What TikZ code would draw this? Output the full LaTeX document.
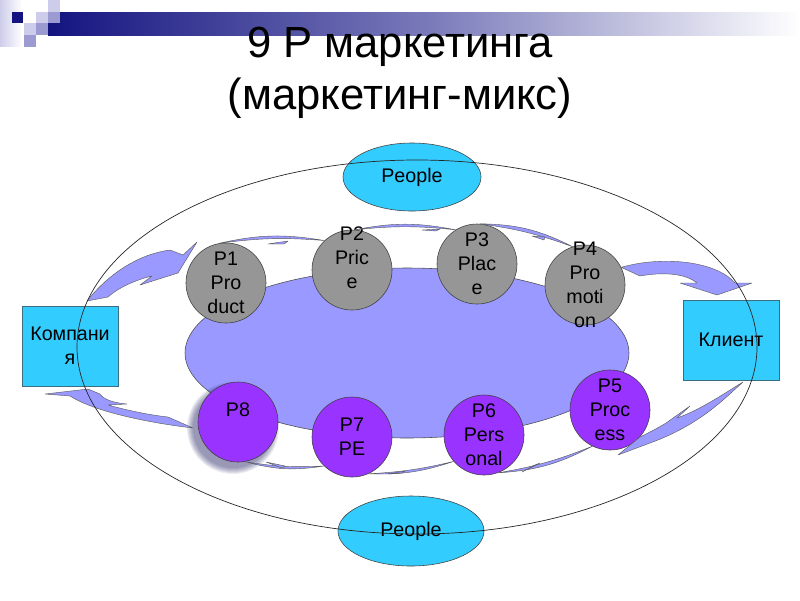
\documentclass[tikz,border=0pt]{standalone}
\usepackage{fontspec}
\setmainfont{Liberation Sans}
\usetikzlibrary{shapes.geometric}

\definecolor{pcyan}{RGB}{51,204,255}
\definecolor{plav}{RGB}{153,153,255}
\definecolor{pgrey}{RGB}{150,150,150}
\definecolor{pviolet}{RGB}{153,51,255}
\definecolor{hnavy}{RGB}{20,20,128}
\definecolor{hmid}{RGB}{120,120,185}
\definecolor{hlight}{RGB}{205,205,235}
\definecolor{hmedium}{RGB}{155,155,210}
\definecolor{boxline}{RGB}{60,110,130}

% thin crescent arrow between two points
\newcommand{\thinflow}[4]{\filldraw[flow] (#1) to[bend left=#3] (#2) to[bend right=#4] (#1) -- cycle;}
% small barb on a thin arrow
\newcommand{\barb}[3]{\filldraw[flow] (#1) -- (#2) -- (#3) -- cycle;}

\begin{document}
\begin{tikzpicture}[x=0.025cm, y=-0.025cm,
    every node/.style={font=\fontsize{14}{17}\selectfont},
    pball/.style={circle, draw=black!75, minimum size=2cm, inner sep=0pt},
    greyball/.style={pball, fill=pgrey},
    violetball/.style={pball, fill=pviolet},
    ptext/.style={align=center, inner sep=0pt},
    sidebox/.style={draw=boxline, fill=pcyan, minimum width=2.4cm, minimum height=2cm, align=center, inner sep=0pt},
    people/.style={ellipse, draw=black!75, fill=pcyan, inner sep=0pt},
    flow/.style={fill=plav, draw=black!65, line width=0.3pt, line join=round},
  ]
  \useasboundingbox (0,0) rectangle (800,600);

  % header strip and squares
  \shade[left color=hlight, right color=white] (0,0) rectangle (22,46);
  \shade[left color=hnavy, right color=white, middle color=hmid] (48,12) rectangle (800,35);
  \fill[hnavy] (12,12) rectangle (23,23);
  \fill[hlight] (48,0) rectangle (60,12);
  \fill[hlight] (36,12) rectangle (48,23);
  \fill[hmedium] (48,12) rectangle (60,23);
  \fill[hlight] (24,23) rectangle (36,35);
  \fill[hmedium] (36,23) rectangle (48,35);
  \fill[hmedium] (24,35) rectangle (36,47);

  % title
  \node[align=center, font=\fontsize{31}{37}\selectfont] (title) at (400,73)
    {9 Р маркетинга\\(маркетинг-микс)};

  % inner field
  \filldraw[fill=plav, draw=black!70] (407,353) ellipse (222 and 85);

  % shadow under P8
  \foreach \r in {40,41,...,46}
    \fill[black!70!blue, opacity=0.07] (233,428) circle (\r);

  % the P circles
  \node[greyball] (p1) at (226,283) {};
  \node[greyball] (p2) at (352,270) {};
  \node[greyball] (p3) at (477,264) {};
  \node[greyball] (p4) at (585,285) {};
  \node[violetball] (p5) at (610,410) {};
  \node[violetball] (p6) at (484,435) {};
  \node[violetball] (p7) at (352,437) {};
  \node[violetball] (p8) at (238,422) {};

  \node[ptext] (t1) at (p1) {P1\\Pro\\duct};
  \node[ptext] (t2) at ([yshift=0.3cm]p2) {P2\\Pric\\e};
  \node[ptext] (t3) at (p3) {P3\\Plac\\e};
  \node[ptext] (t4) at (p4) {P4\\Pro\\moti\\on};
  \node[ptext] (t5) at (p5) {P5\\Proc\\ess};
  \node[ptext] (t6) at (p6) {P6\\Pers\\onal};
  \node[ptext] (t7) at (p7) {P7\\PE};
  \node[ptext] (t8) at ([yshift=0.3cm]p8) {P8};

  % company, client, people
  \node[sidebox] (comp) at (70,346) {Компани\\я};
  \node[sidebox] (client) at (731,340) {Клиент};
  \node[people, minimum width=3.45cm, minimum height=1.7cm] (ptop) at (412,177) {People};
  \node[people, minimum width=3.65cm, minimum height=1.75cm] (pbot) at (411,531) {People};

  % thin arrows along the circles
  \thinflow{p1.100}{p2.133}{11}{6}
  \thinflow{p2.86}{p3.122}{11}{6}
  \thinflow{p3.86}{p4.108}{13}{6}
  \thinflow{p5.244}{p6.290}{12}{6}
  \thinflow{p6.221}{p7.294}{10}{5}
  \thinflow{p7.226}{p8.280}{12}{6}
  \barb{288,241}{268,244}{284,244}
  \barb{440,229}{422,230}{436,231}
  \barb{545,237}{532,236}{544,240}
  \barb{540,463}{522,472}{535,465}
  \barb{405,471}{388,474}{402,473}
  \barb{285,466}{266,462}{282,468}

  % big arrow company -> P1
  \filldraw[flow] (87,301) .. controls (110,272) and (140,254) .. (170,250)
    -- (183,255) -- (197,242) -- (178,273) -- (140,285) -- (152,276)
    .. controls (135,280) and (118,288) .. (108,297) -- cycle;
  % big arrow P4 -> client
  \filldraw[flow] (p4.26) .. controls (660,256) and (715,260) .. (735,283)
    -- (752,283) -- (717,295) -- (680,283) -- (697,283)
    .. controls (685,273) and (662,272) .. (640,276) -- cycle;
  % big arrow client -> P5
  \filldraw[flow] (743,382) .. controls (725,398) and (700,425) .. (650,443)
    -- (618,455) -- (640,437) .. controls (650,432) and (658,428) .. (666,423)
    -- (690,406) -- (677,418) .. controls (700,410) and (725,393) .. (743,382) -- cycle;
  % big arrow P8 -> company
  \filldraw[flow] (193,428) .. controls (150,423) and (95,412) .. (70,396)
    -- (45,394) -- (88,389) -- (100,394) .. controls (104,400) and (115,403) .. (127,404)
    -- (108,405) .. controls (130,411) and (150,415) .. (168,417) -- cycle;

  % outer ring
  \draw[black!85, line width=0.5pt] (417,347) ellipse (340 and 187);
\end{tikzpicture}
\end{document}
